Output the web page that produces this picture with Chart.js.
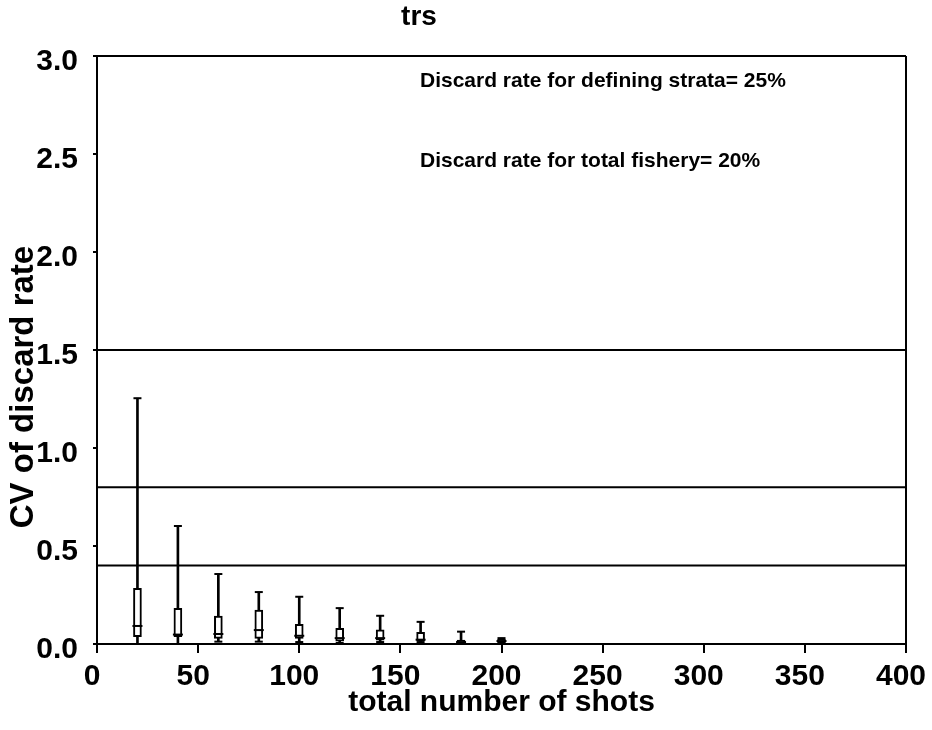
<!DOCTYPE html>
<html>
<head>
<meta charset="utf-8">
<title>trs</title>
<script src="https://cdn.jsdelivr.net/npm/chart.js@4.4.1/dist/chart.umd.min.js"></script>
<style>
  html, body { margin: 0; padding: 0; background: #fff; }
  #wrap { width: 932px; height: 730px; }
</style>
</head>
<body>
<div id="wrap"><canvas id="cvChart" width="932" height="730"></canvas></div>
<script>
// box plot of CV per sample size (total number of shots)
const shots    = [20, 40, 60, 80, 100, 120, 140, 160, 180, 200];
const cvMin    = [0.0, 0.0, 0.012, 0.012, 0.01, 0.005, 0.01, 0.01, 0.003, 0.005];
const cvQ1     = [0.037, 0.037, 0.029, 0.029, 0.029, 0.015, 0.02, 0.017, 0.005, 0.008];
const cvMedian = [0.092, 0.048, 0.051, 0.071, 0.042, 0.03, 0.03, 0.022, 0.01, 0.015];
const cvQ3     = [0.284, 0.182, 0.143, 0.173, 0.1, 0.08, 0.072, 0.06, 0.02, 0.025];
const cvMax    = [1.254, 0.602, 0.357, 0.265, 0.241, 0.183, 0.144, 0.113, 0.063, 0.03];

// horizontal reference levels
const refLevels = [1.5, 0.8, 0.4];

const xMin = 0, xMax = 400, xStep = 50;
const yMin = 0, yMax = 3, yStep = 0.5;

const titleText = "trs";
const xTitle = "total number of shots";
const yTitle = "CV of discard rate";
const notes = ["Discard rate for defining strata= 25%", "Discard rate for total fishery= 20%"];

const FONT = "'Liberation Sans', Arial, sans-serif";

const refSets = refLevels.map(v => ({
  type: "line",
  data: [{ x: xMin, y: v }, { x: xMax, y: v }],
  borderColor: "#000",
  borderWidth: 2,
  pointRadius: 0,
  order: 5
}));

// title, rotated y title and the two notes
const textPlugin = {
  id: "texts",
  afterDraw(chart) {
    const ctx = chart.ctx;
    ctx.save();
    ctx.fillStyle = "#000";
    ctx.textBaseline = "middle";

    ctx.font = `bold 28px ${FONT}`;
    ctx.textAlign = "center";
    ctx.fillText(titleText, 419, 17);

    ctx.font = `bold 21px ${FONT}`;
    ctx.textAlign = "left";
    ctx.fillText(notes[0], 420, 81);
    ctx.fillText(notes[1], 420, 161);

    ctx.translate(24, 387);
    ctx.rotate(-Math.PI / 2);
    ctx.font = `bold 33px ${FONT}`;
    ctx.textAlign = "center";
    ctx.fillText(yTitle, 0, 0);
    ctx.restore();
  }
};

new Chart(document.getElementById("cvChart"), {
  type: "bar",
  data: {
    datasets: [
      ...refSets,
      {
        // whiskers
        type: "bar",
        data: shots.map((s, i) => ({ x: s, y: [cvMin[i], cvMax[i]] })),
        backgroundColor: "#000",
        borderWidth: 0,
        barThickness: 2,
        grouped: false,
        order: 4
      },
      {
        // boxes
        type: "bar",
        data: shots.map((s, i) => ({ x: s, y: [cvQ1[i], cvQ3[i]] })),
        backgroundColor: "#fff",
        borderColor: "#000",
        borderWidth: 2,
        borderSkipped: false,
        barThickness: 8,
        grouped: false,
        order: 3
      },
      {
        // medians
        type: "line",
        data: shots.map((s, i) => ({ x: s, y: cvMedian[i] })),
        showLine: false,
        pointStyle: "line",
        pointRadius: 5,
        pointBorderWidth: 2,
        pointBorderColor: "#000",
        order: 2
      },
      {
        // upper caps
        type: "line",
        data: shots.map((s, i) => ({ x: s, y: cvMax[i] })),
        showLine: false,
        pointStyle: "line",
        pointRadius: 4,
        pointBorderWidth: 2,
        pointBorderColor: "#000",
        order: 1
      },
      {
        // lower caps
        type: "line",
        data: shots.map((s, i) => ({ x: s, y: cvMin[i] })),
        showLine: false,
        pointStyle: "line",
        pointRadius: 4,
        pointBorderWidth: 2,
        pointBorderColor: "#000",
        order: 1
      }
    ]
  },
  options: {
    responsive: false,
    animation: false,
    events: [],
    layout: { padding: { left: 0, right: 26, top: 56, bottom: 0 } },
    plugins: {
      legend: { display: false },
      tooltip: { enabled: false },
      title: { display: false }
    },
    scales: {
      x: {
        type: "linear",
        min: xMin,
        max: xMax,
        offset: false,
        afterFit(scale) {
          scale.height = 86;
          scale.paddingLeft = 0;
          scale.paddingRight = 0;
        },
        ticks: {
          stepSize: xStep,
          color: "#000",
          padding: 6,
          labelOffset: -5,
          maxRotation: 0,
          font: { family: FONT, size: 30, weight: "bold" }
        },
        grid: {
          offset: false,
          drawOnChartArea: true,
          color: c => (c.tick && c.tick.value === xMax ? "#000" : "rgba(0,0,0,0)"),
          tickColor: "#000",
          tickLength: 9,
          lineWidth: 2
        },
        border: { display: true, color: "#000", width: 2 },
        title: {
          display: true,
          text: xTitle,
          color: "#000",
          padding: { top: 0, bottom: 9 },
          font: { family: FONT, size: 30, weight: "bold" }
        }
      },
      y: {
        min: yMin,
        max: yMax,
        afterFit(scale) {
          scale.width = 97;
          scale.paddingTop = 0;
          scale.paddingBottom = 0;
        },
        ticks: {
          stepSize: yStep,
          color: "#000",
          padding: 15,
          labelOffset: 6,
          callback: v => Number(v).toFixed(1),
          font: { family: FONT, size: 30, weight: "bold" }
        },
        grid: {
          drawOnChartArea: true,
          color: c => (c.tick && c.tick.value === yMax ? "#000" : "rgba(0,0,0,0)"),
          tickColor: "#000",
          tickLength: 4,
          lineWidth: 2
        },
        border: { display: true, color: "#000", width: 2 }
      }
    }
  },
  plugins: [textPlugin]
});
</script>
</body>
</html>
